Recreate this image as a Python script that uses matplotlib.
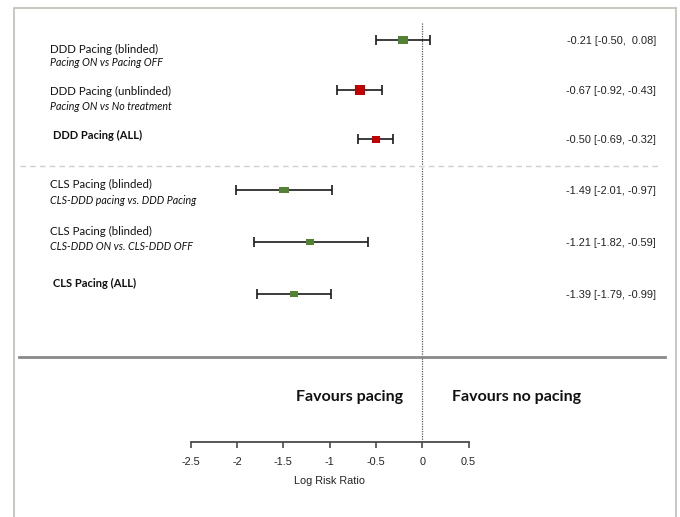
import matplotlib
matplotlib.use("Agg")
import matplotlib.pyplot as plt
from matplotlib.patches import Rectangle

# ---- data ----
labels = ["DDD Pacing (blinded)", "DDD Pacing (unblinded)", "DDD Pacing (ALL)",
          "CLS Pacing (blinded)", "CLS Pacing (blinded)", "CLS Pacing (ALL)"]
sublabels = ["Pacing ON vs Pacing OFF", "Pacing ON vs No treatment", "",
             "CLS-DDD pacing vs. DDD Pacing", "CLS-DDD ON vs. CLS-DDD OFF", ""]
estimates = [-0.21, -0.67, -0.50, -1.49, -1.21, -1.39]
ci_low = [-0.50, -0.92, -0.69, -2.01, -1.82, -1.79]
ci_high = [0.08, -0.43, -0.32, -0.97, -0.59, -0.99]
is_summary = [False, False, True, False, False, True]
tick_values = [-2.5, -2, -1.5, -1, -0.5, 0, 0.5]
tick_labels = ["-2.5", "-2", "-1.5", "-1", "-0.5", "0", "0.5"]

# ---- style / layout ----
box_colors = ["#548235", "#c00000", "#c00000", "#548235", "#548235", "#548235"]
box_w = [10, 9.7, 8.7, 9.3, 7.2, 7.3]      # px
box_h = [7.5, 9.3, 7.0, 6.2, 5.2, 5.4]     # px
row_y = [40, 90, 139, 190, 242, 294]       # pixel rows
label_y = [49, 91, 135, 184, 231, 283]
sub_y = [63, 107, None, 201, 247, None]

W, H = 680, 517
X0, UNIT = 422.3, 92.6   # pixel of x=0 and px per unit


def px2x(p):
    return (p - X0) / UNIT


fig = plt.figure(figsize=(W / 100, H / 100), dpi=100)
fig.patch.set_facecolor("white")
ax = fig.add_axes([0, 0, 1, 1])
ax.set_xlim(px2x(0), px2x(W))
ax.set_ylim(H, 0)
ax.patch.set_alpha(0)

# outer frame
fig.patches.append(Rectangle((14 / W, -0.05), (676 - 14) / W, (H - 8) / H + 0.05,
                             transform=fig.transFigure, fill=False,
                             edgecolor="#c4c4bb", linewidth=1.3))

arial = "Liberation Sans"
lab_font = "Lato"

# reference line at 0
ax.plot([0, 0], [23, 442], color="#555555", lw=0.9, ls=(0, (1, 1)), zorder=1)
# dashed separator
ax.plot([px2x(20), px2x(660)], [165.7, 165.7], color="#cfcfcf", lw=1.0,
        ls=(0, (4, 3)), zorder=1)
# solid separator
ax.plot([px2x(19), px2x(665)], [356.5, 356.5], color="#8a8a8a", lw=2.0, zorder=1)

for i in range(len(estimates)):
    y = row_y[i]
    ax.errorbar([estimates[i]], [y], xerr=[[estimates[i] - ci_low[i]], [ci_high[i] - estimates[i]]],
                fmt="none", ecolor="#1a1a1a", elinewidth=1.2, capsize=3.3,
                capthick=1.2, zorder=2)
    r = box_h[i] / box_w[i]
    verts = [(-1, -r), (1, -r), (1, r), (-1, r), (-1, -r)]
    ax.plot([estimates[i]], [y], marker=verts, markersize=box_w[i] * 0.72,
            color=box_colors[i], markeredgewidth=0, ls="none", zorder=3)
    ax.text(px2x(656), y + 1, f"{estimates[i]:.2f} [{ci_low[i]:.2f}, {ci_high[i]:5.2f}]",
            ha="right", va="center", fontsize=7.9, family=arial, color="#222222")
    lx = px2x(53 if is_summary[i] else 50)
    ax.text(lx, label_y[i], labels[i], ha="left", va="center",
            fontsize=8.0 if is_summary[i] else 8.3,
            family=lab_font, fontweight="bold" if is_summary[i] else "normal",
            color="#111111")
    if sublabels[i]:
        ax.text(px2x(50), sub_y[i], sublabels[i], ha="left", va="center", fontsize=7.7,
                family=lab_font, style="italic", color="#111111")

ax.text(px2x(403), 396.5, "Favours pacing", ha="right", va="center", fontsize=11.5,
        family=lab_font, fontweight="bold", color="#111111")
ax.text(px2x(452), 396.5, "Favours no pacing", ha="left", va="center", fontsize=11.5,
        family=lab_font, fontweight="bold", color="#111111")

# x axis
for s in ["left", "right", "top"]:
    ax.spines[s].set_visible(False)
ax.spines["bottom"].set_position(("data", 442))
ax.spines["bottom"].set_bounds(tick_values[0], tick_values[-1])
ax.spines["bottom"].set_color("#4a4a4a")
ax.spines["bottom"].set_linewidth(1.3)
ax.set_xticks(tick_values)
ax.set_xticklabels(tick_labels, family=arial, fontsize=7.8, color="#222222")
ax.tick_params(axis="x", direction="out", length=4.5, width=1.2, color="#4a4a4a", pad=6)
ax.set_yticks([])
ax.text(-1, 481, "Log Risk Ratio", ha="center", va="center", fontsize=7.8,
        family=arial, color="#222222")

fig.savefig("out.png", dpi=100, facecolor="white")
